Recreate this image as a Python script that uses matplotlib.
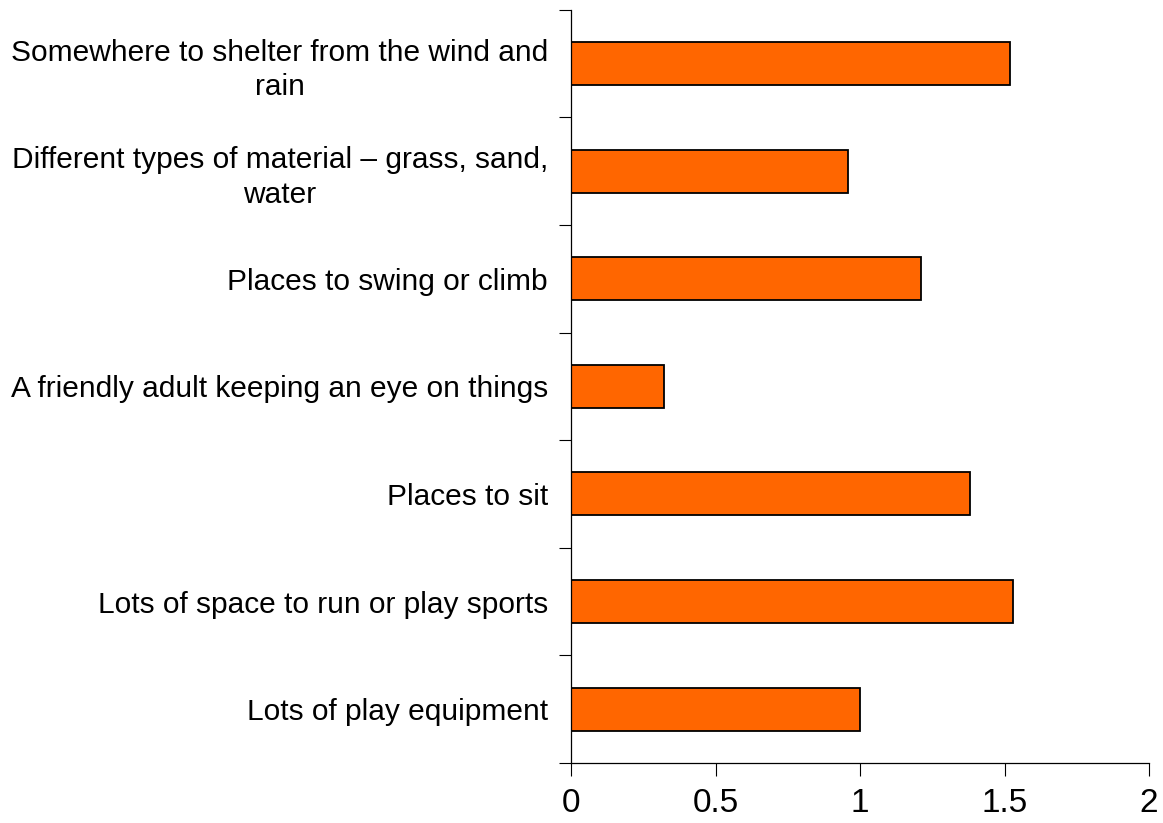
import numpy as np
import matplotlib.pyplot as plt
from matplotlib.ticker import FixedLocator, FixedFormatter

plt.rcParams['font.family'] = ['Liberation Sans', 'DejaVu Sans']

categories = [
    'Somewhere to shelter from the wind and\nrain',
    'Different types of material \u2013 grass, sand,\nwater',
    'Places to swing or climb',
    'A friendly adult keeping an eye on things',
    'Places to sit',
    'Lots of space to run or play sports',
    'Lots of play equipment',
]
values = [1.52, 0.96, 1.21, 0.32, 1.38, 1.53, 1.00]
xticks = [0, 0.5, 1, 1.5, 2]
xticklabels = ['0', '0.5', '1', '1.5', '2']

fig = plt.figure(figsize=(11.63, 8.23), dpi=100, facecolor='w')
ax = fig.add_axes([0.491, 0.073, 0.497, 0.915])

pos = np.arange(len(categories))
ax.barh(pos, values, height=0.4, color='#FF6600', edgecolor='black', linewidth=1.3)

ax.set_xlim(0, 2)
ax.set_ylim(len(categories) - 0.5, -0.5)

ax.set_xticks(xticks)
ax.set_xticklabels(xticklabels, fontsize=24)
ax.tick_params(axis='x', direction='out', length=9, width=0.8, pad=9)

ax.yaxis.set_major_locator(FixedLocator(np.arange(len(categories) + 1) - 0.5))
ax.yaxis.set_major_formatter(FixedFormatter([''] * (len(categories) + 1)))
ax.yaxis.set_minor_locator(FixedLocator(pos))
ax.yaxis.set_minor_formatter(FixedFormatter(categories))
ax.tick_params(axis='y', which='major', direction='out', length=9, width=0.8)
ax.tick_params(axis='y', which='minor', length=0, pad=16.5, labelsize=21.5)
for lab in ax.yaxis.get_minorticklabels():
    lab.set_multialignment('center')
    lab.set_linespacing(1.3)

ax.spines['top'].set_visible(False)
ax.spines['right'].set_visible(False)
ax.spines['left'].set_linewidth(0.9)
ax.spines['bottom'].set_linewidth(0.9)

fig.savefig('out.png', dpi=100)
